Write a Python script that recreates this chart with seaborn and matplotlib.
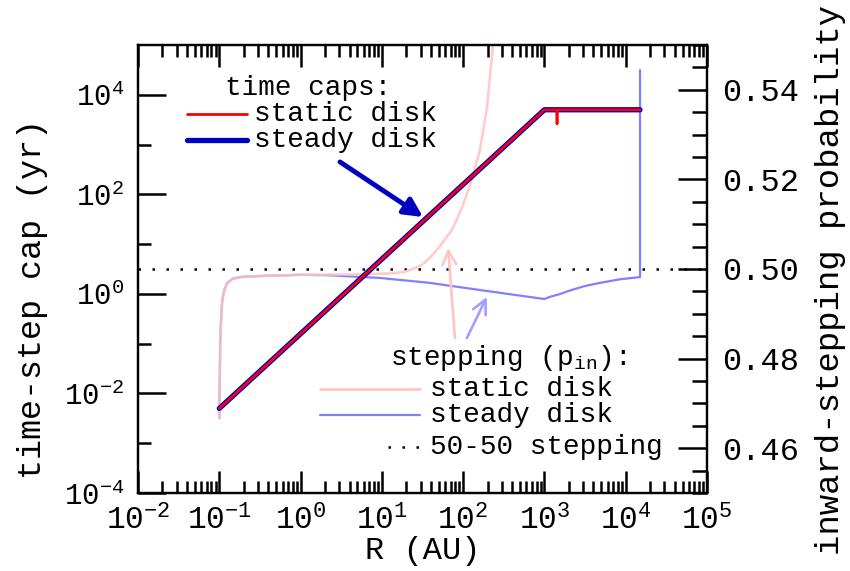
import numpy as np
import pandas as pd
import matplotlib
matplotlib.use("Agg")
import matplotlib.pyplot as plt
from matplotlib.ticker import (FixedLocator, LogLocator, MultipleLocator,
                               FuncFormatter, FormatStrFormatter, NullFormatter)
import seaborn as sns

# ---- time-step caps (yr) against radius (AU) ----
cap_static_R = [0.1, 1000, 1410, 1430, 1450, 15000]
cap_static_t = [5.0e-3, 5.0e3, 5.0e3, 2.6e3, 5.0e3, 5.0e3]
cap_steady_R = [0.1, 1000, 15000]
cap_steady_t = [5.0e-3, 5.0e3, 5.0e3]

# ---- inward-stepping probability p_in against radius (AU) ----
pin_static_R = [0.1, 0.1014, 0.1028, 0.1059, 0.1089, 0.1153, 0.1253, 0.1445,
                0.1811, 0.275, 1.0, 5.5, 12.6, 19.2, 24.1, 31.1, 39.0, 51.8,
                72.7, 96.6, 128, 161, 196, 232, 253]
pin_static_p = [0.4667, 0.4752, 0.4842, 0.4897, 0.4931, 0.4953, 0.4969, 0.4978,
                0.4982, 0.4984, 0.4987, 0.4988, 0.4990, 0.4994, 0.5000, 0.5009,
                0.5025, 0.5051, 0.5087, 0.5136, 0.5199, 0.5266, 0.5359, 0.5496,
                0.5556]
pin_steady_R = [0.1, 0.1014, 0.1028, 0.1059, 0.1089, 0.1153, 0.1253, 0.1445,
                0.1811, 0.275, 1.0, 2.3, 9.5, 38.9, 162, 1000, 1170, 1550,
                2060, 3150, 4820, 8490, 15000, 15000]
pin_steady_p = [0.4667, 0.4752, 0.4842, 0.4897, 0.4931, 0.4953, 0.4969, 0.4978,
                0.4982, 0.4984, 0.4987, 0.4986, 0.4980, 0.4969, 0.4953, 0.4933,
                0.4938, 0.4944, 0.4952, 0.4962, 0.4969, 0.4977, 0.4982, 0.5444]
p_even = 0.5

# ---- axes ranges and ticks ----
R_limits = (1e-2, 1e5)
t_limits = (1e-4, 1e5)
p_limits = (0.45, 0.55)
t_major = [1e-4, 1e-2, 1e0, 1e2, 1e4]
t_minor = [1e-3, 1e-1, 1e1, 1e3]

RED = "#ff0000"
DARK_BLUE = "#0000c0"
PINK = "#ffc4c4"
LIGHT_BLUE = "#8080ff"

sns.set_theme(style="white")
plt.rcParams.update({
    "font.family": ["Liberation Mono", "DejaVu Sans"],
    "mathtext.fontset": "custom",
    "mathtext.rm": "Liberation Mono",
    "mathtext.it": "Liberation Mono",
    "axes.edgecolor": "black",
    "axes.linewidth": 1.6,
    "text.color": "black",
    "axes.labelcolor": "black",
    "xtick.color": "black",
    "ytick.color": "black",
})

fig = plt.figure(figsize=(8.5, 5.71), dpi=100)
ax = fig.add_axes([138 / 850, 78 / 571, 569 / 850, 448 / 571])
ax.set_xscale("log")
ax.set_yscale("log")
ax2 = ax.twinx()
ax.set_zorder(ax2.get_zorder() + 1)
ax.patch.set_visible(False)

steps_static = pd.DataFrame({"R": pin_static_R, "p": pin_static_p})
steps_steady = pd.DataFrame({"R": pin_steady_R, "p": pin_steady_p})
caps_static = pd.DataFrame({"R": cap_static_R, "t": cap_static_t})
caps_steady = pd.DataFrame({"R": cap_steady_R, "t": cap_steady_t})

# stepping probabilities on the right-hand axis
ax2.axhline(p_even, color="black", lw=1.8, dashes=(1, 4.6))
sns.lineplot(data=steps_steady, x="R", y="p", ax=ax2, sort=False, estimator=None,
             color=LIGHT_BLUE, lw=1.6)
sns.lineplot(data=steps_static, x="R", y="p", ax=ax2, sort=False, estimator=None,
             color=PINK, lw=1.9, alpha=0.85)

# time caps on the left-hand axis
sns.lineplot(data=caps_steady, x="R", y="t", ax=ax, sort=False, estimator=None,
             color=DARK_BLUE, lw=3.8)
sns.lineplot(data=caps_static, x="R", y="t", ax=ax, sort=False, estimator=None,
             color=RED, lw=1.9)

ax.set_xlim(*R_limits)
ax.set_ylim(*t_limits)
ax2.set_ylim(*p_limits)

# ---- ticks ----
pow_fmt = FuncFormatter(lambda v, _: r"$\mathregular{10^{%d}}$" % round(np.log10(v)))
ax.xaxis.set_major_locator(LogLocator(base=10, numticks=20))
ax.xaxis.set_minor_locator(LogLocator(base=10, subs=np.arange(2, 10), numticks=20))
ax.xaxis.set_major_formatter(pow_fmt)
ax.xaxis.set_minor_formatter(NullFormatter())
ax.yaxis.set_major_locator(FixedLocator(t_major))
ax.yaxis.set_minor_locator(FixedLocator(t_minor))
ax.yaxis.set_major_formatter(pow_fmt)
ax.yaxis.set_minor_formatter(NullFormatter())

ax.tick_params(axis="x", which="both", direction="in", top=True, bottom=True,
               width=1.8, labelsize=22.5, pad=9)
ax.tick_params(axis="x", which="major", length=16)
ax.tick_params(axis="x", which="minor", length=8.6)
ax.tick_params(axis="y", which="both", direction="in", left=True, right=False,
               width=1.8, labelsize=21, pad=10)
ax.tick_params(axis="y", which="major", length=20)
ax.tick_params(axis="y", which="minor", length=9.5)

ax2.yaxis.set_major_locator(MultipleLocator(0.02))
ax2.yaxis.set_minor_locator(MultipleLocator(0.005))
ax2.yaxis.set_major_formatter(FormatStrFormatter("%.2f"))
ax2.tick_params(axis="y", which="both", direction="in", left=False, right=True,
                width=1.8, labelsize=23, pad=11)
ax2.tick_params(axis="y", which="major", length=21)
ax2.tick_params(axis="y", which="minor", length=11)
for side in ("left", "right", "top", "bottom"):
    ax2.spines[side].set_linewidth(1.6)
    ax.spines[side].set_linewidth(1.6)

# ---- axis titles ----
ax.set_xlabel("R (AU)", fontsize=23)
ax.set_ylabel("time-step cap (yr)", fontsize=24)
ax2.set_ylabel("inward-stepping probability", fontsize=24.5)
ax.xaxis.set_label_coords(0.5, -0.095)
ax.yaxis.set_label_coords(-0.158, 0.433)
ax2.yaxis.set_label_coords(1.19, 0.475)

# ---- in-plot key: time caps ----
tr = ax.transAxes
ax.text(0.153, 0.904, "time caps:", transform=tr, fontsize=20, va="center")
ax.plot([0.086, 0.192], [0.846, 0.846], transform=tr, color=RED, lw=2.0)
ax.text(0.204, 0.846, "static disk", transform=tr, fontsize=20, va="center")
ax.plot([0.086, 0.192], [0.788, 0.788], transform=tr, color=DARK_BLUE, lw=3.8)
ax.text(0.204, 0.788, "steady disk", transform=tr, fontsize=20, va="center")
ax.annotate("", xy=(0.501, 0.616), xytext=(0.355, 0.739), xycoords=tr,
            arrowprops=dict(arrowstyle="-|>", color=DARK_BLUE, lw=3.5,
                            mutation_scale=28, shrinkA=0, shrinkB=0))

# ---- in-plot key: stepping probabilities ----
ax.text(0.443, 0.301, r"stepping (p$_\mathregular{in}$):", transform=tr,
        fontsize=20, va="center")
ax.plot([0.32, 0.496], [0.232, 0.232], transform=tr, color=PINK, lw=1.9)
ax.text(0.513, 0.232, "static disk", transform=tr, fontsize=20, va="center")
ax.plot([0.32, 0.496], [0.174, 0.174], transform=tr, color=LIGHT_BLUE, lw=1.6)
ax.text(0.513, 0.174, "steady disk", transform=tr, fontsize=20, va="center")
ax.plot([0.439, 0.499], [0.103, 0.103], transform=tr, color="black", lw=1.8,
        dashes=(1, 4.6))
ax.text(0.513, 0.103, "50-50 stepping", transform=tr, fontsize=20, va="center")
ax.annotate("", xy=(0.545, 0.547), xytext=(0.557, 0.346), xycoords=tr,
            arrowprops=dict(arrowstyle="->", color=PINK, lw=1.9,
                            mutation_scale=25, shrinkA=0, shrinkB=0))
ax.annotate("", xy=(0.613, 0.4375), xytext=(0.578, 0.346), xycoords=tr,
            arrowprops=dict(arrowstyle="->", color="#a0a0ff", lw=1.9,
                            mutation_scale=25, shrinkA=0, shrinkB=0))

fig.savefig("out.png", dpi=100)
